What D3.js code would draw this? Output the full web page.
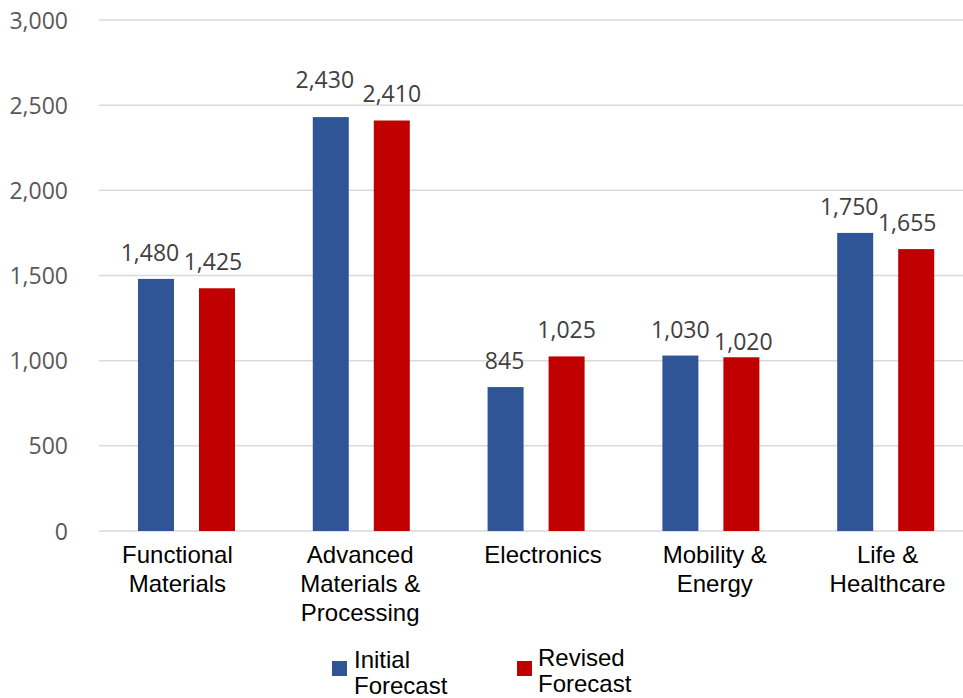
<!DOCTYPE html>
<html>
<head>
<meta charset="utf-8">
<script src="https://cdn.jsdelivr.net/npm/d3@7"></script>
<style>
  html, body { margin: 0; padding: 0; background: #fff; }
  svg { display: block; }
</style>
</head>
<body>
<svg id="chart" width="963" height="698"></svg>
<script>
// Chart data
const categories = [
  ["Functional", "Materials"],
  ["Advanced", "Materials &", "Processing"],
  ["Electronics"],
  ["Mobility &", "Energy"],
  ["Life &", "Healthcare"]
];
const seriesNames = ["Initial Forecast", "Revised Forecast"];
const initialForecast = [1480, 2430, 845, 1030, 1750];
const revisedForecast = [1425, 2410, 1025, 1020, 1655];
const yTicks = [0, 500, 1000, 1500, 2000, 2500, 3000];

// Styling
const colors = ["#2F5597", "#C00000"];
const labelNudge = [
  [[-6, 0], [-6, -11], [-1, 0], [0, 0], [-6, 0]],
  [[-4, 0], [0, 0], [0, 0], [2, 11], [-9, 0]]
];
const categoryNudge = [-9, -1, 7, 4, 2];

const svg = d3.select("#chart");
const catKeys = categories.map(c => c.join(" "));
const series = [initialForecast, revisedForecast];

const x = d3.scaleBand().domain(catKeys).range([99, 973]).paddingInner(0).paddingOuter(0);
const bw = x.bandwidth();
const xs = d3.scaleBand().domain(seriesNames).range([bw * 0.223, bw * 0.778]).paddingInner(25 / 61).paddingOuter(0);
const y = d3.scaleLinear().domain([0, 3000]).range([531, 20]);

const fmt = d3.format(",");

// Gridlines
svg.append("g").selectAll("line").data(yTicks).join("line")
  .attr("x1", 99).attr("x2", 963)
  .attr("y1", d => y(d)).attr("y2", d => y(d))
  .attr("stroke", "#d9d9d9").attr("stroke-width", 1.5);

// Y axis labels
const yAxis = d3.axisLeft(y).tickValues(yTicks).tickFormat(fmt).tickSize(0).tickPadding(0);
const gy = svg.append("g").attr("transform", "translate(68,0)").call(yAxis);
gy.select(".domain").remove();
gy.selectAll("text")
  .attr("font-family", "'Open Sans', sans-serif")
  .attr("font-size", 23)
  .attr("fill", "#595959")
  .attr("dy", "0.35em");

// Bars
series.forEach((vals, si) => {
  svg.append("g").selectAll("rect").data(vals).join("rect")
    .attr("x", (d, i) => x(catKeys[i]) + xs(seriesNames[si]))
    .attr("width", xs.bandwidth())
    .attr("y", d => y(d))
    .attr("height", d => y(0) - y(d))
    .attr("fill", colors[si]);
});

// Value labels
series.forEach((vals, si) => {
  svg.append("g").selectAll("text").data(vals).join("text")
    .attr("x", (d, i) => x(catKeys[i]) + xs(seriesNames[si]) + xs.bandwidth() / 2 + labelNudge[si][i][0])
    .attr("y", (d, i) => y(d) - 18 + labelNudge[si][i][1])
    .attr("text-anchor", "middle")
    .attr("font-family", "'Open Sans', sans-serif")
    .attr("font-size", 23)
    .attr("fill", "#404040")
    .text(d => fmt(d));
});

// Category labels
const gx = svg.append("g");
categories.forEach((lines, i) => {
  const t = gx.append("text")
    .attr("text-anchor", "middle")
    .attr("font-family", "'Liberation Sans', Arial, sans-serif")
    .attr("font-size", 24)
    .attr("fill", "#000");
  lines.forEach((ln, j) => {
    t.append("tspan")
      .attr("x", x(catKeys[i]) + bw / 2 + categoryNudge[i])
      .attr("y", 563 + j * 29)
      .text(ln);
  });
});

// Legend
const legendItems = [
  { name: seriesNames[0], lines: ["Initial", "Forecast"], sx: 332, sy: 661, tx: 354, ty: 668 },
  { name: seriesNames[1], lines: ["Revised", "Forecast"], sx: 517, sy: 661, tx: 538, ty: 666 }
];
const lg = svg.append("g");
legendItems.forEach((it, i) => {
  lg.append("rect").attr("x", it.sx).attr("y", it.sy).attr("width", 15).attr("height", 15).attr("fill", colors[i]);
  const t = lg.append("text")
    .attr("font-family", "'Liberation Sans', Arial, sans-serif")
    .attr("font-size", 24)
    .attr("fill", "#000");
  it.lines.forEach((ln, j) => {
    t.append("tspan").attr("x", it.tx).attr("y", it.ty + j * 26).text(ln);
  });
});
</script>
</body>
</html>
